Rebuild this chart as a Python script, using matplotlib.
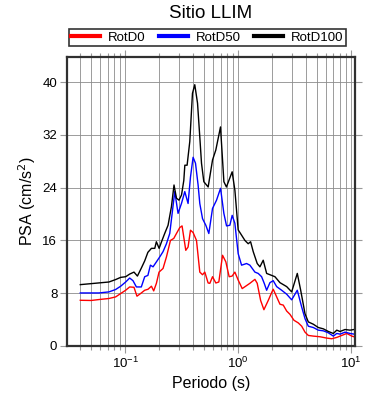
"""
Espectro de respuesta (RotD0 / RotD50 / RotD100) - Sitio LLIM.
"""

# Imports #
import numpy as np
import matplotlib
matplotlib.use("Agg")
from matplotlib import pyplot as plt
from matplotlib.ticker import LogLocator, FixedLocator, NullFormatter

plt.rcParams['font.family'] = ['Liberation Sans', 'DejaVu Sans']

# Data #
title = "Sitio LLIM"
series_names = ["RotD0", "RotD50", "RotD100"]
series_colors = ["#ff0000", "#0000ff", "#000000"]

periods_d100 = [0.040, 0.0585, 0.0718, 0.0823, 0.0912, 0.101, 0.1096, 0.1197, 0.1284,
                0.139, 0.149, 0.159, 0.171, 0.183, 0.189, 0.200, 0.210, 0.224, 0.240,
                0.257, 0.271, 0.285, 0.300, 0.316, 0.331, 0.338, 0.354, 0.374, 0.395,
                0.414, 0.438, 0.459, 0.475, 0.498, 0.544, 0.595, 0.636, 0.700, 0.750,
                0.790, 0.888, 0.939, 1.004, 1.076, 1.152, 1.232, 1.294, 1.365, 1.481,
                1.565, 1.674, 1.795, 1.988, 2.127, 2.356, 2.702, 2.992, 3.356, 3.597,
                3.928, 4.202, 4.655, 5.157, 5.711, 6.326, 7.005, 7.51, 8.035, 8.901,
                9.858, 10.7]
psa_d100 = [9.3, 9.56, 9.7, 10.07, 10.4, 10.5, 10.9, 11.2, 10.6,
            11.8, 12.9, 14.2, 14.8, 14.8, 15.8, 14.8, 15.8, 17.05, 18.3,
            21.1, 24.4, 22.4, 22.1, 22.9, 25.1, 27.4, 27.4, 31.0, 38.3,
            39.6, 36.8, 31.6, 27.7, 24.9, 24.1, 28.2, 29.7, 33.2, 24.9,
            24.1, 26.4, 23.6, 17.6, 16.8, 16.0, 15.5, 15.8, 14.3, 12.5,
            12.0, 13.0, 11.0, 10.7, 10.5, 9.6, 9.0, 8.2, 11.0, 8.45,
            4.9, 3.65, 3.3, 2.8, 2.6, 2.2, 1.9, 2.4, 2.2, 2.5,
            2.4, 2.5]

periods_d50 = [0.040, 0.0585, 0.0718, 0.0823, 0.0912, 0.101, 0.1096, 0.1173, 0.1257,
               0.139, 0.149, 0.159, 0.1674, 0.1766, 0.1892, 0.2025, 0.2166, 0.2322,
               0.2484, 0.2752, 0.2943, 0.3155, 0.3376, 0.3611, 0.3793, 0.400, 0.4202,
               0.4431, 0.4587, 0.485, 0.5187, 0.5516, 0.5948, 0.6455, 0.7006, 0.7497,
               0.792, 0.8474, 0.8882, 0.9386, 1.004, 1.076, 1.192, 1.275, 1.413, 1.511,
               1.62, 1.709, 1.795, 1.92, 2.054, 2.202, 2.439, 2.702, 2.992, 3.356,
               3.672, 3.928, 4.202, 4.655, 5.157, 5.711, 6.326, 7.005, 7.51, 8.035,
               8.901, 9.858, 10.7]
psa_d50 = [8.04, 8.04, 8.2, 8.56, 9.06, 9.7, 10.3, 9.9, 8.95,
           8.95, 10.5, 10.7, 12.25, 12.0, 12.75, 13.5, 14.3, 15.5,
           17.05, 23.4, 20.1, 21.6, 23.4, 21.6, 25.6, 28.6, 27.7,
           24.4, 21.6, 19.3, 18.3, 17.05, 20.85, 22.1, 23.9, 20.1,
           18.2, 18.3, 19.8, 18.6, 14.0, 12.25, 12.5, 12.25, 11.2, 11.0,
           10.5, 9.5, 8.45, 9.6, 9.9, 9.0, 8.45, 7.85, 7.0, 8.45,
           5.9, 4.15, 3.0, 2.8, 2.4, 2.3, 2.0, 1.5, 1.9, 1.8,
           2.1, 1.9, 1.8]

periods_d0 = [0.040, 0.050, 0.0585, 0.0718, 0.0823, 0.0912, 0.101, 0.1096, 0.1197,
              0.1272, 0.1393, 0.149, 0.1594, 0.1709, 0.179, 0.1892, 0.1996, 0.2166,
              0.2322, 0.252, 0.2696, 0.2849, 0.3048, 0.3194, 0.3446, 0.3611, 0.3793,
              0.400, 0.4288, 0.4587, 0.485, 0.5082, 0.5437, 0.563, 0.5948, 0.6364,
              0.6766, 0.7299, 0.7806, 0.8353, 0.8882, 0.9386, 1.004, 1.09, 1.275,
              1.413, 1.481, 1.588, 1.698, 1.854, 2.013, 2.054, 2.202, 2.356, 2.52,
              2.702, 2.89, 3.136, 3.424, 3.672, 3.928, 4.202, 4.655, 5.338, 6.122,
              6.781, 7.51, 8.319, 9.215, 10.21, 10.7]
psa_d0 = [6.93, 6.9, 7.04, 7.2, 7.44, 7.95, 8.45, 8.95, 8.9,
          7.55, 8.05, 8.45, 8.6, 9.06, 8.35, 9.5, 11.2, 11.75,
          13.5, 16.0, 16.3, 17.05, 17.95, 18.2, 14.5, 15.0, 17.55,
          17.2, 16.0, 11.2, 10.8, 11.2, 9.55, 9.5, 10.5, 9.55,
          9.7, 13.75, 12.75, 10.5, 10.6, 11.2, 10.0, 8.7, 9.5,
          10.1, 9.5, 6.9, 5.5, 6.9, 8.3, 8.6, 7.45, 6.33, 6.2,
          5.3, 4.8, 3.9, 3.5, 3.0, 2.1, 1.6, 1.5, 1.4, 1.2,
          1.1, 1.3, 1.6, 1.9, 1.5, 1.4]

y_ticks = [0, 8, 16, 24, 32, 40]


def plot_spectra():
    fig = plt.figure(figsize=(3.9, 4.0), dpi=100)
    ax = fig.add_axes([67 / 390, 54 / 400, 288 / 390, 289 / 400])

    series = [(periods_d0, psa_d0), (periods_d50, psa_d50), (periods_d100, psa_d100)]
    for (per, psa), name, color in zip(series, series_names, series_colors):
        ax.plot(per, psa, color=color, lw=1.0, label=name)

    ax.set_xscale('log')
    ax.set_xlim(0.0305, 10.9)
    ax.set_ylim(0, 43.8)

    # Ticks and grid (gray, outward, on all four sides)
    ax.xaxis.set_major_locator(LogLocator(base=10))
    ax.xaxis.set_minor_locator(LogLocator(base=10, subs=np.arange(2, 10)))
    ax.xaxis.set_minor_formatter(NullFormatter())
    ax.yaxis.set_major_locator(FixedLocator(y_ticks))
    ax.tick_params(which='both', direction='out', color='#999999', width=0.8,
                   top=True, right=True, labelsize=9.5, pad=2)
    ax.tick_params(which='major', length=5)
    ax.tick_params(which='minor', length=3)
    ax.grid(which='both', axis='x', color='#8c8c8c', lw=0.6)
    ax.grid(which='major', axis='y', color='#8c8c8c', lw=0.6)
    ax.set_axisbelow(True)

    for sp in ax.spines.values():
        sp.set_color('#303030')
        sp.set_linewidth(1.6)

    ax.set_xlabel("Periodo (s)", fontsize=11.5, labelpad=4)
    ax.set_ylabel("PSA (cm/s$^2$)", fontsize=11.5, labelpad=3)

    fig.text(211 / 390, 1 - 13 / 400, title, fontsize=13.5, ha='center', va='center')

    leg = fig.legend(loc='center', bbox_to_anchor=(207.5 / 390, 1 - 37.5 / 400), ncol=3,
                     fontsize=9.5, frameon=True, fancybox=False, handlelength=2.2,
                     handletextpad=0.6, columnspacing=1.0, borderpad=0.2,
                     borderaxespad=0)
    leg.get_frame().set_edgecolor('black')
    leg.get_frame().set_linewidth(1.2)
    for line in leg.get_lines():
        line.set_linewidth(3)

    fig.savefig("out.png", dpi=100)


if __name__ == '__main__':
    plot_spectra()
